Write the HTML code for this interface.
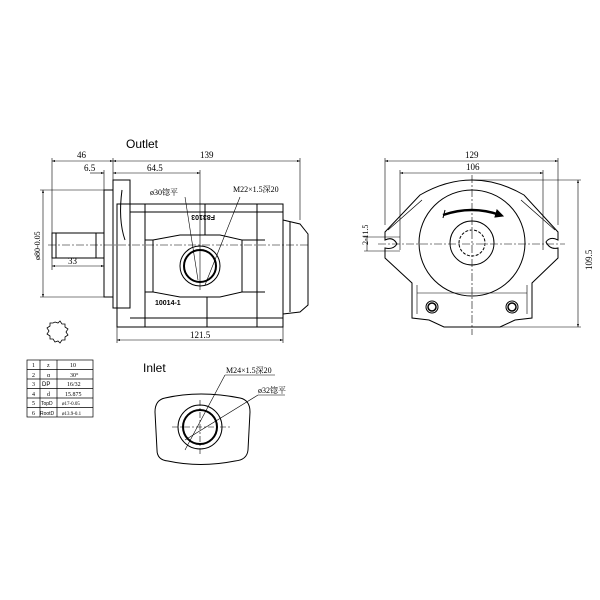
<!DOCTYPE html>
<html><head><meta charset="utf-8"><style>body{margin:0;background:#fff}svg{display:block}</style></head><body>
<svg width="600" height="600" viewBox="0 0 600 600" xmlns="http://www.w3.org/2000/svg" font-family="Liberation Serif, Noto Serif CJK SC, serif" fill="none" stroke="#000" stroke-width="1">
<defs><marker id="a" viewBox="0 0 6 6" refX="6" refY="3" markerWidth="5" markerHeight="5" orient="auto-start-reverse"><path d="M0,1 L6,3 L0,5z" fill="#000" stroke="none"/></marker></defs>
<!-- Left view -->
<text x="126" y="148" font-family="Liberation Sans, sans-serif" font-size="12" fill="#000" stroke="none">Outlet</text>
<g stroke-width="0.6">
<line x1="52" y1="161" x2="113" y2="161" marker-start="url(#a)" marker-end="url(#a)"/>
<line x1="113" y1="161" x2="300" y2="161" marker-start="url(#a)" marker-end="url(#a)"/>
<line x1="90" y1="173" x2="104" y2="173" marker-end="url(#a)"/>
<line x1="113" y1="173" x2="200" y2="173" marker-start="url(#a)" marker-end="url(#a)"/>
<line x1="52" y1="158" x2="52" y2="270"/><line x1="113" y1="158" x2="113" y2="190"/><line x1="104" y1="170" x2="104" y2="190"/>
<line x1="300" y1="158" x2="300" y2="220"/><line x1="200" y1="170" x2="200" y2="290"/>
<line x1="43" y1="190" x2="43" y2="297" marker-start="url(#a)" marker-end="url(#a)"/>
<line x1="40" y1="190" x2="104" y2="190"/><line x1="40" y1="297" x2="104" y2="297"/>
<line x1="52" y1="266" x2="104" y2="266" marker-start="url(#a)" marker-end="url(#a)"/>
<line x1="117" y1="340" x2="283" y2="340" marker-start="url(#a)" marker-end="url(#a)"/>
<line x1="117" y1="320" x2="117" y2="343"/><line x1="283" y1="320" x2="283" y2="343"/>
<line x1="48" y1="245" x2="310" y2="245" stroke-dasharray="8,2,2,2"/>
</g>
<g font-size="9" fill="#000" stroke="none">
<text x="77" y="158">46</text><text x="200" y="158">139</text><text x="84" y="171">6.5</text><text x="147" y="171">64.5</text>
<text x="68" y="264">33</text><text x="190" y="338">121.5</text>
<text x="150" y="195" font-size="8">ø30锪平</text><text x="233" y="192" font-size="8">M22×1.5深20</text>
<text transform="translate(40,260) rotate(-90)" font-size="8">ø80-0.05</text>
<text transform="translate(215,215) rotate(180)" font-size="7" font-family="Liberation Sans,sans-serif" font-weight="bold">F83103</text>
<text x="155" y="305" font-size="7" font-family="Liberation Sans,sans-serif" font-weight="bold">10014-1</text>
</g>
<g stroke-width="0.6"><line x1="185" y1="197" x2="198" y2="280"/><line x1="240" y1="197" x2="205" y2="285"/></g>
<rect x="52" y="233" width="52" height="25"/><line x1="56" y1="233" x2="56" y2="258"/><line x1="96" y1="233" x2="96" y2="258"/>
<rect x="104" y="190" width="9" height="107"/>
<rect x="113" y="180" width="17" height="128"/>
<path d="M122,190 Q118,220 125,240"/>
<rect x="117" y="204" width="166" height="123"/>
<line x1="130" y1="212" x2="283" y2="212"/><line x1="130" y1="318" x2="283" y2="318"/>
<line x1="145" y1="204" x2="145" y2="327"/><line x1="257" y1="204" x2="257" y2="327"/>
<line x1="205" y1="204" x2="205" y2="235"/><line x1="207" y1="297" x2="207" y2="327"/>
<path d="M283,220 L300,224 L308,234 L308,305 L300,312 L283,314"/>
<line x1="290" y1="222" x2="290" y2="312"/>
<path d="M153,240 L180,235 L220,235 L242,240 L242,292 L220,297 L180,297 L153,292 Z"/>
<line x1="145" y1="240" x2="153" y2="240"/><line x1="242" y1="240" x2="265" y2="240"/>
<line x1="145" y1="292" x2="153" y2="292"/><line x1="242" y1="292" x2="265" y2="292"/>
<circle cx="200" cy="266" r="20"/><circle cx="200" cy="266" r="16" stroke-width="2"/>
<path d="M55,322 l3,1 2,-2 2,3 3,0 0,3 3,2 -2,3 2,3 -3,2 0,3 -3,0 -2,3 -2,-2 -3,1 -2,-3 -3,0 0,-3 -3,-2 2,-3 -2,-3 3,-2 0,-3 3,0 z" stroke-width="0.8"/>
<!-- Right view -->
<g stroke-width="0.6">
<line x1="385" y1="161" x2="558" y2="161" marker-start="url(#a)" marker-end="url(#a)"/>
<line x1="400" y1="173" x2="543" y2="173" marker-start="url(#a)" marker-end="url(#a)"/>
<line x1="385" y1="158" x2="385" y2="225"/><line x1="558" y1="158" x2="558" y2="225"/>
<line x1="400" y1="170" x2="400" y2="250"/><line x1="543" y1="170" x2="543" y2="250"/>
<line x1="578" y1="180" x2="578" y2="327" marker-start="url(#a)" marker-end="url(#a)"/>
<line x1="472" y1="180" x2="581" y2="180"/><line x1="472" y1="327" x2="581" y2="327"/>
<line x1="367" y1="237" x2="367" y2="251"/><line x1="364" y1="237" x2="400" y2="237"/><line x1="364" y1="251" x2="400" y2="251"/>
<line x1="378" y1="244" x2="565" y2="244" stroke-dasharray="8,2,2,2"/>
<line x1="472" y1="175" x2="472" y2="335" stroke-dasharray="8,2,2,2"/>
</g>
<g font-size="9" fill="#000" stroke="none"><text x="465" y="158">129</text><text x="466" y="170">106</text>
<text transform="translate(592,270) rotate(-90)">109.5</text><text transform="translate(368,245) rotate(-90)" font-size="8">2-11.5</text></g>
<path d="M385,232 L420,195 Q472,165 524,195 L558,232 L558,240 Q550,236 546,242 Q550,250 558,248 L558,258 L532,283 L532,318 L515,320 L500,327 L444,327 L429,320 L412,318 L412,283 L385,258 L385,248 Q393,250 397,244 Q393,236 385,240 Z"/>
<path d="M388,230 L422,200 M555,230 L521,200" stroke-width="0.7"/>
<path d="M417,285 L417,314 M527,285 L527,314 M417,293 L527,293" stroke-width="0.6"/>
<circle cx="472" cy="243" r="53"/><circle cx="472" cy="243" r="22"/>
<circle cx="472" cy="243" r="13" stroke-dasharray="3,1.5"/>
<path d="M443,215 Q472,205 500,215" stroke-width="2.5"/><path d="M497,210 L503,216 L495,217 Z" fill="#000"/><path d="M445,210 L443,218"/>
<circle cx="432" cy="307" r="6"/><circle cx="432" cy="307" r="4" stroke-width="1.5"/>
<circle cx="512" cy="307" r="6"/><circle cx="512" cy="307" r="4" stroke-width="1.5"/>
<!-- Table -->
<g stroke-width="0.7"><rect x="27" y="360" width="66" height="57"/>
<line x1="40" y1="360" x2="40" y2="417"/><line x1="57" y1="360" x2="57" y2="417"/>
<line x1="27" y1="369.5" x2="93" y2="369.5"/><line x1="27" y1="379" x2="93" y2="379"/><line x1="27" y1="388.5" x2="93" y2="388.5"/><line x1="27" y1="398" x2="93" y2="398"/><line x1="27" y1="407.5" x2="93" y2="407.5"/></g>
<g font-size="6" fill="#000" stroke="none">
<text x="32" y="367">1</text><text x="32" y="377">2</text><text x="32" y="386">3</text><text x="32" y="396">4</text><text x="32" y="405">5</text><text x="32" y="415">6</text>
<text x="47" y="367">z</text><text x="47" y="377">α</text><text x="42" y="386" font-family="Liberation Sans,sans-serif">DP</text><text x="47" y="396">d</text><text x="41" y="405" font-size="5" font-family="Liberation Sans,sans-serif">TopD</text><text x="40" y="415" font-size="5" font-family="Liberation Sans,sans-serif">RootD</text>
<text x="70" y="367">10</text><text x="70" y="377">30°</text><text x="67" y="386">16/32</text><text x="65" y="396">15.875</text><text x="62" y="405" font-size="5">ø17-0.05</text><text x="62" y="415" font-size="5">ø13.9-0.1</text></g>
<!-- Inlet -->
<text x="143" y="372" font-family="Liberation Sans,sans-serif" font-size="12" fill="#000" stroke="none">Inlet</text>
<path d="M165,398 Q200,390 240,398 Q250,400 250,412 L248,450 Q247,460 235,461 Q200,468 168,461 Q157,460 157,450 L155,412 Q155,400 165,398 Z"/>
<circle cx="200" cy="427" r="22"/><circle cx="200" cy="427" r="17" stroke-width="2"/>
<g stroke-width="0.6"><line x1="172" y1="427" x2="230" y2="427" stroke-dasharray="6,2,2,2"/><line x1="200" y1="400" x2="200" y2="455" stroke-dasharray="6,2,2,2"/>
<line x1="225" y1="375" x2="185" y2="450"/><line x1="225" y1="375" x2="275" y2="375"/>
<line x1="258" y1="395" x2="185" y2="440"/><line x1="258" y1="395" x2="285" y2="395"/></g>
<g font-size="8" fill="#000" stroke="none"><text x="226" y="373">M24×1.5深20</text><text x="258" y="393">ø32锪平</text></g>
</svg>
</body></html>
